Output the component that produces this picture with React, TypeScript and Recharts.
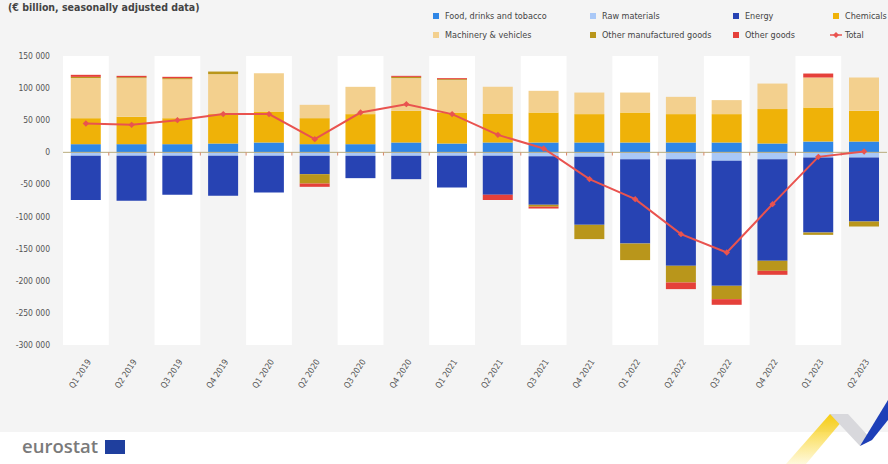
import { BarChart, Bar, XAxis, YAxis, Line, ReferenceArea, ReferenceLine } from 'recharts'

// € million
const quarters = [
  'Q1 2019', 'Q2 2019', 'Q3 2019', 'Q4 2019',
  'Q1 2020', 'Q2 2020', 'Q3 2020', 'Q4 2020',
  'Q1 2021', 'Q2 2021', 'Q3 2021', 'Q4 2021',
  'Q1 2022', 'Q2 2022', 'Q3 2022', 'Q4 2022',
  'Q1 2023', 'Q2 2023',
]
const food = [12700, 12700, 12700, 13700, 15300, 12700, 12700, 15300, 13700, 15300, 15300, 15300, 15300, 15300, 15300, 13700, 16800, 16800]
const rawMaterials = [-5400, -5400, -5400, -5400, -5400, -5400, -5400, -5400, -5400, -5400, -6000, -7000, -10600, -10600, -13200, -10600, -8100, -8100]
const energy = [-69000, -70100, -60800, -62300, -57200, -28600, -34800, -36400, -49400, -60800, -75700, -105900, -131400, -166100, -194700, -158300, -116800, -99600]
const chemicals = [40500, 42600, 40500, 45800, 48200, 40500, 46800, 49300, 48300, 44200, 46700, 44200, 46700, 44200, 44200, 53600, 53000, 47800]
const machinery = [62300, 60200, 60800, 62200, 59800, 20800, 42500, 50900, 50400, 42500, 33800, 33600, 31100, 26900, 21800, 39800, 46700, 51900]
const otherManufactured = [2000, 1500, 1500, 4100, 0, -14600, 0, 2000, 1500, 0, -3000, -22200, -25800, -26000, -20700, -15600, -3600, -7800]
const otherGoods = [3200, 2100, 2100, 0, 0, -5100, 0, 1600, 1600, -8200, -2800, 0, 0, -10300, -8800, -6200, 6200, 0]
const total = [44800, 42800, 50100, 59500, 59500, 20500, 62000, 75000, 59500, 27200, 6000, -41700, -72900, -127400, -156000, -80700, -7000, 1200]

const yTicks = [150000, 100000, 50000, 0, -50000, -100000, -150000, -200000, -250000, -300000]

// stacking order matters: positives stack food > chemicals > machinery > ..., negatives raw > energy > ...
const series = [
  { key: 'food', name: 'Food, drinks and tobacco', color: '#2f86e6', values: food },
  { key: 'raw', name: 'Raw materials', color: '#a9c8f7', values: rawMaterials },
  { key: 'energy', name: 'Energy', color: '#2743b3', values: energy },
  { key: 'chem', name: 'Chemicals', color: '#efb208', values: chemicals },
  { key: 'mach', name: 'Machinery & vehicles', color: '#f3d08e', values: machinery },
  { key: 'om', name: 'Other manufactured goods', color: '#b9961b', values: otherManufactured },
  { key: 'og', name: 'Other goods', color: '#e5403a', values: otherGoods },
]
const TOTAL_COLOR = '#e9534f'

const legendRows = [
  ['food', 'raw', 'energy', 'chem'],
  ['mach', 'om', 'og', 'total'],
]
const legendX = [433, 590, 733, 833]
const legendY = [16, 35]

const data = quarters.map((q, i) => {
  const row: Record<string, any> = { quarter: q, total: total[i] }
  series.forEach(s => { row[s.key] = s.values[i] })
  return row
})

const FONT = "'DejaVu Sans Condensed', 'Liberation Sans Narrow', 'DejaVu Sans', sans-serif"

function fmt(v: number) {
  const s = Math.abs(v).toString().replace(/\B(?=(\d{3})+(?!\d))/g, ' ')
  return v < 0 ? '-' + s : s
}

function QuarterTick({ x, y, payload }: any) {
  return (
    <g transform={`translate(${x + 3},${y + 13})`}>
      <text transform="rotate(-57)" textAnchor="end" dy="0.35em" fontSize={8.5} fill="#555" fontFamily={FONT}>
        {payload.value}
      </text>
    </g>
  )
}

function ValueTick({ x, y, payload }: any) {
  return (
    <text x={x} y={y} dy="0.35em" textAnchor="end" fontSize={8.5} fill="#555" fontFamily={FONT}>
      {fmt(payload.value)}
    </text>
  )
}

function Diamond({ cx, cy }: any) {
  if (cx == null || cy == null) return null
  const r = 3.2
  return <path d={`M${cx},${cy - r}L${cx + r},${cy}L${cx},${cy + r}L${cx - r},${cy}Z`} fill={TOTAL_COLOR} />
}

function LegendItem({ k }: { k: string }) {
  if (k === 'total') {
    return (
      <span style={{ display: 'flex', alignItems: 'center' }}>
        <svg width={12} height={8} style={{ marginRight: 3 }}>
          <line x1={0} y1={4} x2={12} y2={4} stroke={TOTAL_COLOR} strokeWidth={1.5} />
          <path d="M6,1L9,4L6,7L3,4Z" fill={TOTAL_COLOR} />
        </svg>
        Total
      </span>
    )
  }
  const s = series.find(d => d.key === k)!
  return (
    <span style={{ display: 'flex', alignItems: 'center' }}>
      <span style={{ width: 6, height: 6, background: s.color, marginRight: 6, marginLeft: 3 }} />
      {s.name}
    </span>
  )
}

export default function App() {
  return (
    <div style={{ position: 'absolute', left: 0, top: 0, width: 888, height: 464, overflow: 'hidden', background: '#fff' }}>
      <div style={{ position: 'absolute', left: 0, top: 0, width: 888, height: 432, background: '#f4f4f4' }} />

      <div style={{
        position: 'absolute', left: 8, top: 1, fontSize: 10.5, fontWeight: 700,
        color: '#444', fontFamily: FONT, whiteSpace: 'nowrap', lineHeight: '12px',
      }}>
        (€ billion, seasonally adjusted data)
      </div>

      {legendRows.map((row, ri) => row.map((k, ci) => (
        <div key={k} style={{
          position: 'absolute', left: legendX[ci] - 3, top: legendY[ri] - 6,
          fontSize: 9, color: '#444', fontFamily: FONT, whiteSpace: 'nowrap', lineHeight: '12px',
        }}>
          <LegendItem k={k} />
        </div>
      )))}

      <div style={{ position: 'absolute', left: 0, top: 0 }}>
        <BarChart
          width={888}
          height={432}
          data={data}
          stackOffset="sign"
          barCategoryGap="17%"
          margin={{ top: 56, right: 1, left: 8, bottom: 0 }}
        >
          {quarters.map((q, i) => i % 2 === 0 ? (
            <ReferenceArea key={q} x1={q} x2={q} fill="#ffffff" fillOpacity={1} stroke="none" ifOverflow="visible" />
          ) : null)}
          <XAxis
            dataKey="quarter"
            interval={0}
            axisLine={false}
            tickLine={false}
            tickSize={0}
            tick={<QuarterTick />}
            height={87}
          />
          <YAxis
            domain={[-300000, 150000]}
            ticks={yTicks}
            interval={0}
            axisLine={false}
            tickLine={false}
            tickSize={0}
            tickMargin={13}
            width={55}
            tick={<ValueTick />}
          />
          {series.map(s => (
            <Bar key={s.key} dataKey={s.key} name={s.name} stackId="a" fill={s.color} isAnimationActive={false} />
          ))}
          <ReferenceLine y={0} stroke="#b9ab7c" strokeWidth={1} />
          {quarters.slice(1).map(q => (
            <ReferenceLine
              key={'t' + q}
              position="start"
              segment={[{ x: q, y: 0 }, { x: q, y: -5000 }]}
              stroke="#d9876a"
              strokeWidth={1}
            />
          ))}
          <Line
            type="linear"
            dataKey="total"
            name="Total"
            stroke={TOTAL_COLOR}
            strokeWidth={2}
            dot={<Diamond />}
            activeDot={false}
            isAnimationActive={false}
          />
        </BarChart>
      </div>

      {/* footer: eurostat logo and ribbon */}
      <div style={{
        position: 'absolute', left: 22, top: 435, fontSize: 18.5, fontWeight: 600,
        color: '#7a7a7a', fontFamily: "'Open Sans', sans-serif", lineHeight: '22px',
      }}>
        eurostat
      </div>
      <div style={{ position: 'absolute', left: 105, top: 440, width: 20, height: 14, background: '#1f3f9e' }} />
      <svg width={888} height={464} style={{ position: 'absolute', left: 0, top: 0, pointerEvents: 'none' }}>
        <defs>
          <linearGradient id="ribbonY" x1="0" y1="1" x2="0" y2="0">
            <stop offset="0%" stopColor="#fbd417" stopOpacity={0.15} />
            <stop offset="100%" stopColor="#f7cc10" stopOpacity={1} />
          </linearGradient>
        </defs>
        <polygon points="786,464 806,464 848,414 830,414" fill="url(#ribbonY)" />
        <polygon points="830,414 848,414 872,440 860,446" fill="#d8d8dc" />
        <polygon points="860,446 872,440 888,420 888,400" fill="#1d3fb8" />
      </svg>
    </div>
  )
}
